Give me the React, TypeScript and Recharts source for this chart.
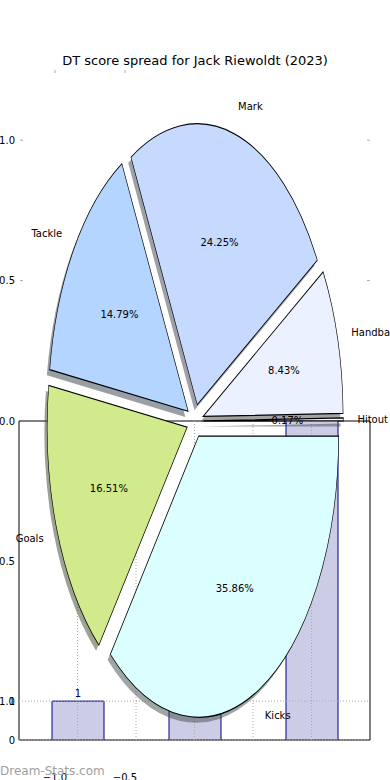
import React from "react";
import {
  Bar,
  BarChart,
  ComposedChart,
  LabelList,
  Pie,
  PieChart,
  ReferenceArea,
  ReferenceLine,
  XAxis,
  YAxis,
} from "recharts";

// pie: share of DT score by stat type (matplotlib order, counter-clockwise from 3 o'clock)
const statNames = ["Hitout", "Handball", "Mark", "Tackle", "Goals", "Kicks"];
const statShares = [0.17, 8.43, 24.25, 14.79, 16.51, 35.86];
const statColors = ["#f6f8ff", "#ebf1ff", "#c6d9ff", "#b4d5ff", "#d0ea8c", "#dbffff"];

// bar chart sitting under the pie
const barSlots = [0, 1, 2];
const barCounts = [1, 3, 12];
const barTicks = [0, 1];
const barGridTicks = [0, 0.5, 1, 1.5, 2];

// pie axes ticks
const pieTicksY = [-1, -0.5, 0, 0.5, 1];
const pieTicksX = [-1, -0.5];
const pieMarkTicks = [0.5, 1];

const W = 390;
const H = 780;
const FONT = "'DejaVu Sans', sans-serif";

// pie geometry (px)
const CX = 195;
const CY = 421;
const R = 140;
const K = 281 / 140; // axes are not equal aspect -> ellipse
const EXPLODE = 0.06;
const LABEL_DIST = 1.1;
const PCT_DIST = 0.6;
const BAR_MAX = 8.2;
const GRID = "#a8a8a8";

const minus = (v: number) => v.toFixed(1).replace("-", "\u2212");

const shade = (hex: string) => {
  const n = parseInt(hex.slice(1), 16);
  const r = Math.round(((n >> 16) & 255) * 0.3);
  const g = Math.round(((n >> 8) & 255) * 0.3);
  const b = Math.round((n & 255) * 0.3);
  return `rgb(${r},${g},${b})`;
};

const total = statShares.reduce((a, b) => a + b, 0);
const edges: number[] = [0];
statShares.forEach((s) => edges.push(edges[edges.length - 1] + (s / total) * 360));

const slices = statNames.map((name, i) => {
  const start = edges[i];
  const end = edges[i + 1];
  const mid = (((start + end) / 2) * Math.PI) / 180;
  return {
    key: name,
    data: [{ name, value: statShares[i] }],
    start,
    end,
    cx: CX + EXPLODE * R * Math.cos(mid),
    cy: CY - EXPLODE * R * Math.sin(mid),
    color: statColors[i],
  };
});

const barData = barSlots.map((slot, i) => ({ slot, count: barCounts[i] }));
const tickData = pieTicksY.map((y, i) => ({ x: pieTicksX[i % pieTicksX.length], y }));

function SliceLabel(props: any) {
  const { cx, cy, midAngle } = props;
  const name = props.name ?? props.payload?.name;
  const value = props.value ?? props.payload?.value;
  const a = (midAngle * Math.PI) / 180;
  const nx = cx + LABEL_DIST * R * Math.cos(a);
  const ny = cy - LABEL_DIST * R * Math.sin(a);
  const px = cx + PCT_DIST * R * Math.cos(a);
  const py = cy - PCT_DIST * R * Math.sin(a);
  // undo the vertical stretch on the text
  return (
    <g>
      <text
        transform={`translate(${nx} ${ny}) scale(1 ${1 / K})`}
        textAnchor={nx > CX ? "start" : "end"}
        dominantBaseline="central"
        fontSize={10}
        fill="#000"
      >
        {name}
      </text>
      <text
        transform={`translate(${px} ${py}) scale(1 ${1 / K})`}
        textAnchor="middle"
        dominantBaseline="central"
        fontSize={10}
        fill="#000"
      >
        {Number(value).toFixed(2)}%
      </text>
    </g>
  );
}

function BarValue(props: any) {
  const { x, y, width, value } = props;
  if (value > BAR_MAX) return null;
  return (
    <text x={x + width / 2} y={y - 4} textAnchor="middle" fontSize={10} fill="#000080">
      {value}
    </text>
  );
}

function PieLeftTick(props: any) {
  const { x, y, payload } = props;
  const v = payload.value;
  return (
    <g>
      <text x={x - 5} y={y} dy="0.355em" textAnchor="end" fontSize={10} fill="#000">
        {minus(v)}
      </text>
      {pieMarkTicks.includes(v) && <line x1={x} x2={x + 3} y1={y} y2={y} stroke="#aaa" />}
    </g>
  );
}

function PieBottomTick(props: any) {
  const { x, y, payload } = props;
  return (
    <text x={x} y={y + 2} dy="0.71em" textAnchor="middle" fontSize={10} fill="#000">
      {minus(payload.value)}
    </text>
  );
}

function TopMark(props: any) {
  const { x, y } = props;
  return <line x1={x} x2={x} y1={y} y2={y + 3} stroke="#aaa" />;
}

function RightMark(props: any) {
  const { x, y } = props;
  return <line x1={x - 3} x2={x} y1={y} y2={y} stroke="#aaa" />;
}

const abs: React.CSSProperties = { position: "absolute", left: 0, top: 0 };

export default function App() {
  return (
    <div
      style={{
        ...abs,
        width: W,
        height: H,
        overflow: "hidden",
        background: "#fff",
        fontFamily: FONT,
      }}
    >
      {/* ticks of the pie axes */}
      <div style={abs}>
        <ComposedChart width={W} height={H} data={tickData} margin={{ top: 62, right: 19, bottom: 0, left: 19 }}>
          <XAxis
            type="number"
            dataKey="x"
            domain={[-1.25, 1.25]}
            ticks={pieTicksX}
            interval={0}
            height={8}
            axisLine={false}
            tickLine={false}
            tickSize={0}
            tickMargin={0}
            tick={<PieBottomTick />}
          />
          <XAxis
            xAxisId="top"
            orientation="top"
            type="number"
            dataKey="x"
            domain={[-1.25, 1.25]}
            ticks={pieTicksX}
            interval={0}
            height={8}
            tickSize={0}
            tickMargin={0}
            tick={<TopMark />}
            axisLine={false}
            tickLine={false}
          />
          <YAxis
            type="number"
            dataKey="y"
            domain={[-1.25, 1.25]}
            ticks={pieTicksY}
            interval={0}
            width={1}
            axisLine={false}
            tickLine={false}
            tickSize={0}
            tickMargin={0}
            tick={<PieLeftTick />}
          />
          <YAxis
            yAxisId="rm"
            orientation="right"
            type="number"
            dataKey="y"
            domain={[-1.25, 1.25]}
            ticks={pieMarkTicks}
            interval={0}
            width={1}
            tickSize={0}
            tickMargin={0}
            tick={<RightMark />}
            axisLine={false}
            tickLine={false}
          />
        </ComposedChart>
      </div>

      {/* bar chart underneath */}
      <div style={abs}>
        <BarChart width={W} height={H} data={barData} margin={{ top: 421, right: 19, bottom: 20, left: 0 }}>
          <XAxis
            dataKey="slot"
            type="number"
            domain={[-0.5, 2.5]}
            ticks={barGridTicks}
            interval={0}
            height={20}
            tick={false}
            tickLine={false}
            axisLine={false}
          />
          <YAxis
            type="number"
            domain={[0, BAR_MAX]}
            ticks={barTicks}
            interval={0}
            allowDataOverflow
            width={19}
            tickSize={0}
            tickMargin={4}
            tick={{ fontSize: 10, fill: "#000" }}
            axisLine={false}
          />
          <YAxis
            yAxisId="right"
            orientation="right"
            type="number"
            domain={[0, BAR_MAX]}
            ticks={barTicks}
            interval={0}
            width={1}
            tickSize={0}
            tickMargin={0}
            tick={<RightMark />}
            tickLine={false}
            axisLine={false}
          />
          <Bar dataKey="count" fill="#ccccE6" stroke="#000080" strokeWidth={1} barSize={52} isAnimationActive={false}>
            <LabelList dataKey="count" content={BarValue} />
          </Bar>
          {/* dotted grid drawn over the bars, as in the original */}
          {barGridTicks.map((t) => (
            <ReferenceLine key={"gx" + t} x={t} stroke={GRID} strokeDasharray="1 2" />
          ))}
          {barTicks.map((t) => (
            <ReferenceLine key={"gy" + t} y={t} stroke={GRID} strokeDasharray="1 2" />
          ))}
          <ReferenceArea x1={-0.5} x2={2.5} y1={0} y2={BAR_MAX} fill="none" stroke="#000" strokeWidth={1} />
        </BarChart>
      </div>

      {/* exploded pie with shadows, stretched vertically */}
      <div style={{ ...abs, transform: `scaleY(${K})`, transformOrigin: `${CX}px ${CY}px` }}>
        <PieChart width={W} height={H} margin={{ top: 0, right: 0, bottom: 0, left: 0 }}>
          {slices.map((s) => (
            <Pie
              key={"shadow-" + s.key}
              data={s.data}
              dataKey="value"
              nameKey="name"
              cx={s.cx - 0.02 * R}
              cy={s.cy + 0.02 * R}
              startAngle={s.start}
              endAngle={s.end}
              innerRadius={0}
              outerRadius={R}
              fill={shade(s.color)}
              fillOpacity={0.5}
              stroke="none"
              isAnimationActive={false}
            />
          ))}
          {slices.map((s) => (
            <Pie
              key={s.key}
              data={s.data}
              dataKey="value"
              nameKey="name"
              cx={s.cx}
              cy={s.cy}
              startAngle={s.start}
              endAngle={s.end}
              innerRadius={0}
              outerRadius={R}
              fill={s.color}
              stroke="#000"
              strokeWidth={0.6}
              label={SliceLabel}
              labelLine={false}
              isAnimationActive={false}
            />
          ))}
        </PieChart>
      </div>

      <div
        style={{
          position: "absolute",
          left: 0,
          top: 53,
          width: W,
          textAlign: "center",
          fontSize: 13,
          lineHeight: "16px",
          color: "#000",
        }}
      >
        DT score spread for Jack Riewoldt (2023)
      </div>
      <div
        style={{
          position: "absolute",
          left: 0,
          top: 764,
          fontSize: 12,
          lineHeight: "14px",
          color: "#a0a0a0",
        }}
      >
        Dream-Stats.com
      </div>
    </div>
  );
}
